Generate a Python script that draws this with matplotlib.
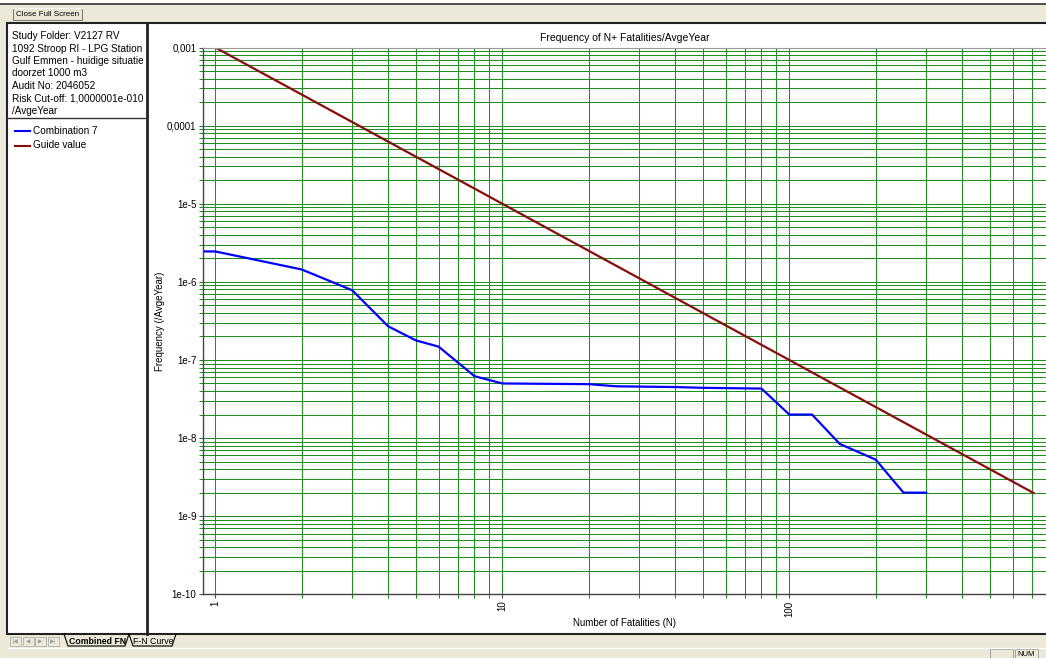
import matplotlib
matplotlib.use("Agg")
import numpy as np
import matplotlib.pyplot as plt
from matplotlib.patches import Rectangle
from matplotlib.ticker import FixedLocator, FixedFormatter, LogLocator, NullFormatter

plt.rcParams["font.family"] = ["Liberation Sans", "DejaVu Sans"]

W, H = 1046, 658

# --- data ---
comb_n = [0.9, 1, 2, 3, 4, 5, 6, 8, 10, 20, 25, 40, 50, 80, 100, 120, 150, 200, 250, 300]
comb_f = [2.45e-6, 2.45e-6, 1.44e-6, 7.8e-7, 2.7e-7, 1.78e-7, 1.48e-7, 6.2e-8, 5.0e-8,
          4.9e-8, 4.6e-8, 4.5e-8, 4.4e-8, 4.3e-8, 2.0e-8, 2.0e-8, 8.4e-9, 5.3e-9, 2.0e-9, 2.0e-9]
guide_n = [1, 710]
guide_f = [1e-3, 1.98e-9]

y_ticks = [1e-3, 1e-4, 1e-5, 1e-6, 1e-7, 1e-8, 1e-9, 1e-10]
y_labels = ["0,001", "0,0001", "1e-5", "1e-6", "1e-7", "1e-8", "1e-9", "1e-10"]
x_ticks = [1, 10, 100, 1000]
x_labels = ["1", "10", "100", "1000"]

info_lines = ["Study Folder: V2127 RV",
              "1092 Stroop RI - LPG Station",
              "Gulf Emmen - huidige situatie",
              "doorzet 1000 m3",
              "Audit No: 2046052",
              "Risk Cut-off: 1,0000001e-010",
              "/AvgeYear"]
legend_names = ["Combination 7", "Guide value"]
legend_colors = ["#0000ff", "#8b0a0a"]

BEIGE = "#ece9d8"
GREEN = "#1f8f1f"
FS = 7.0

fig = plt.figure(figsize=(W / 100, H / 100), dpi=100)

# background "window" drawn in pixel coordinates
bg = fig.add_axes([0, 0, 1, 1], zorder=0)
bg.set_xlim(0, W)
bg.set_ylim(H, 0)
bg.axis("off")


def rect(x0, y0, x1, y1, fc="none", ec="none", lw=1.0):
    bg.add_patch(Rectangle((x0, y0), x1 - x0, y1 - y0, facecolor=fc, edgecolor=ec, lw=lw))


rect(0, 0, W, H, fc=BEIGE)
rect(0, 0, W, 3, fc="white")
bg.plot([0, W], [3.5, 3.5], color="#333333", lw=1.2)
# close button
rect(13, 8, 82, 20, fc=BEIGE, ec="#808080", lw=0.8)
bg.plot([13, 82], [8, 8], color="white", lw=0.8)
bg.text(47.5, 14.5, "Close Full Screen", fontsize=5.8, ha="center", va="center", color="black")

# panels
rect(7, 23, W + 5, 634, fc="white", ec="#222222", lw=1.5)
bg.plot([147, 147], [23, 634], color="#222222", lw=2)
bg.plot([7, 147], [118, 118], color="#333333", lw=1)

for i, line in enumerate(info_lines):
    bg.text(12, 36 + 12.5 * i, line, fontsize=7.2, ha="left", va="center")
for i, (name, c) in enumerate(zip(legend_names, legend_colors)):
    yy = 131 + 14.5 * i
    bg.plot([15, 30], [yy, yy], color=c, lw=1.5)
    bg.text(33, yy, name, fontsize=7.2, ha="left", va="center")

# bottom tabs / status bar
for i, s in enumerate(["|◀", "◀", "▶", "▶|"]):
    rect(10 + 12.5 * i, 637, 21 + 12.5 * i, 646, fc=BEIGE, ec="#b0b0b0", lw=0.6)
    bg.text(15.5 + 12.5 * i, 641.5, s, fontsize=4, ha="center", va="center", color="#a0a0a0")
bg.text(69, 641, "Combined FN", fontsize=6.3, fontweight="bold", ha="left", va="center")
bg.plot([64, 68, 125, 129], [634, 646, 646, 634], color="black", lw=0.8)
bg.text(133, 641, "F-N Curve", fontsize=6.3, ha="left", va="center")
bg.plot([129, 133, 172, 176], [634, 646, 646, 634], color="black", lw=0.8)
bg.plot([8, W], [647.5, 647.5], color="white", lw=1)
rect(990, 649, 1013, 658, ec="#a0a0a0", lw=0.7)
rect(1015, 649, 1038, 658, ec="#a0a0a0", lw=0.7)
bg.text(1026.5, 654, "NUM", fontsize=5.5, ha="center", va="center")

# --- chart ---
left, right, top, bottom = 202.7, 1046.0, 47.5, 594.3
ax = fig.add_axes([left / W, 1 - bottom / H, (right - left) / W, (bottom - top) / H], zorder=1)
ax.set_facecolor("white")
ax.set_xscale("log")
ax.set_yscale("log")
ax.set_xlim(10 ** ((left - 215.3) / 287.0), 10 ** ((right - 215.3) / 287.0))
ax.set_ylim(1e-10, 1e-3)

ax.yaxis.set_major_locator(FixedLocator(y_ticks))
ax.yaxis.set_major_formatter(FixedFormatter(y_labels))
ax.xaxis.set_major_locator(FixedLocator(x_ticks))
ax.xaxis.set_major_formatter(FixedFormatter(x_labels))
for axis in (ax.xaxis, ax.yaxis):
    axis.set_minor_locator(LogLocator(base=10, subs=np.arange(2, 10), numticks=100))
    axis.set_minor_formatter(NullFormatter())

ax.grid(True, which="both", color=GREEN, lw=0.75)
ax.set_axisbelow(True)
ax.tick_params(which="major", length=3, width=0.8, color="#555555", labelsize=FS, pad=1.5)
ax.tick_params(which="minor", length=3, width=0.75, color=GREEN)
plt.setp(ax.get_xticklabels(), rotation=90)

for s in ["left", "bottom"]:
    ax.spines[s].set_color("#444444")
    ax.spines[s].set_linewidth(1.0)
ax.spines["top"].set_color("#9a9a9a")
ax.spines["right"].set_visible(False)

ax.plot(guide_n, guide_f, color=legend_colors[1], lw=1.6)
ax.plot(comb_n, comb_f, color=legend_colors[0], lw=1.6)

ax.set_title("Frequency of N+ Fatalities/AvgeYear", fontsize=FS + 0.5, pad=5)
ax.set_xlabel("Number of Fatalities (N)", fontsize=FS)
ax.set_ylabel("Frequency (/AvgeYear)", fontsize=FS)
ax.xaxis.set_label_coords(0.5, -0.044)
ax.yaxis.set_label_coords(-0.045, 0.5)

fig.savefig("out.png", dpi=100)
